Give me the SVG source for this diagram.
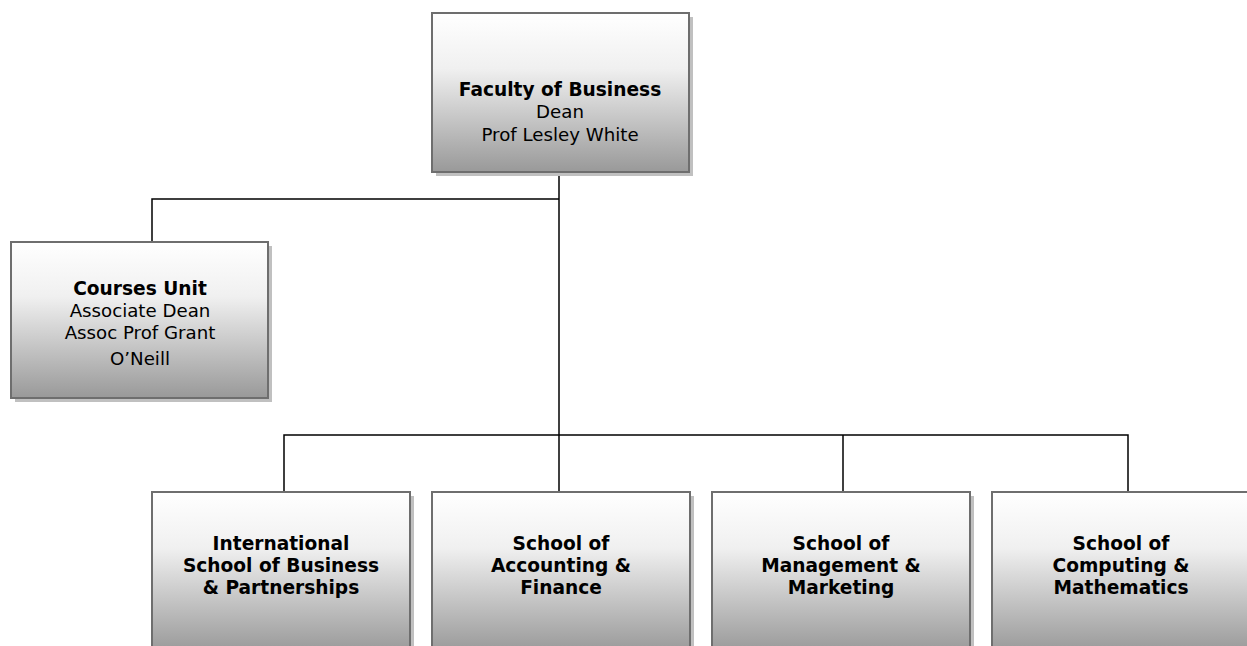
<svg xmlns="http://www.w3.org/2000/svg" width="1247" height="646" viewBox="0 0 1247 646">
<defs>
<linearGradient id="g" x1="0" y1="0" x2="0" y2="1">
<stop offset="0" stop-color="#ffffff"/>
<stop offset="0.35" stop-color="#f0f0f0"/>
<stop offset="1" stop-color="#999999"/>
</linearGradient>
</defs>
<style>
.box{fill:url(#g);stroke:#6e6e6e;stroke-width:2}
.sh{fill:#c0c0c0}
.t{font-family:"DejaVu Sans",Verdana,sans-serif;font-size:18.2px;fill:#000;text-anchor:middle}
.b{font-weight:bold;font-size:18.6px}
.c{stroke:#000;stroke-width:1.5;fill:none}
</style>
<rect width="1247" height="646" fill="#fff"/>
<g id="connectors">
<polyline class="c" points="559,172 559,435"/>
<polyline class="c" points="559,199 152,199 152,242"/>
<polyline class="c" points="284,492 284,435 1128,435 1128,492"/>
<polyline class="c" points="559,435 559,492"/>
<polyline class="c" points="843,435 843,492"/>
</g>
<g id="faculty">
<rect class="sh" x="436" y="17" width="257" height="159"/>
<rect class="box" x="432" y="13" width="257" height="159"/>
<text class="t b" x="560" y="96">Faculty of Business</text>
<text class="t" x="560" y="118">Dean</text>
<text class="t" x="560" y="141">Prof Lesley White</text>
</g>
<g id="courses">
<rect class="sh" x="15" y="246" width="257" height="156"/>
<rect class="box" x="11" y="242" width="257" height="156"/>
<text class="t b" x="140" y="295">Courses Unit</text>
<text class="t" x="140" y="317">Associate Dean</text>
<text class="t" x="140" y="339">Assoc Prof Grant</text>
<text class="t" x="140" y="365">O’Neill</text>
</g>
<g id="intl">
<rect class="sh" x="156" y="496" width="258" height="160"/>
<rect class="box" x="152" y="492" width="258" height="160"/>
<text class="t b" x="281" y="550">International</text>
<text class="t b" x="281" y="572">School of Business</text>
<text class="t b" x="281" y="594">&amp; Partnerships</text>
</g>
<g id="accounting">
<rect class="sh" x="436" y="496" width="258" height="160"/>
<rect class="box" x="432" y="492" width="258" height="160"/>
<text class="t b" x="561" y="550">School of</text>
<text class="t b" x="561" y="572">Accounting &amp;</text>
<text class="t b" x="561" y="594">Finance</text>
</g>
<g id="management">
<rect class="sh" x="716" y="496" width="258" height="160"/>
<rect class="box" x="712" y="492" width="258" height="160"/>
<text class="t b" x="841" y="550">School of</text>
<text class="t b" x="841" y="572">Management &amp;</text>
<text class="t b" x="841" y="594">Marketing</text>
</g>
<g id="computing">
<rect class="sh" x="996" y="496" width="258" height="160"/>
<rect class="box" x="992" y="492" width="258" height="160"/>
<text class="t b" x="1121" y="550">School of</text>
<text class="t b" x="1121" y="572">Computing &amp;</text>
<text class="t b" x="1121" y="594">Mathematics</text>
</g>
</svg>
